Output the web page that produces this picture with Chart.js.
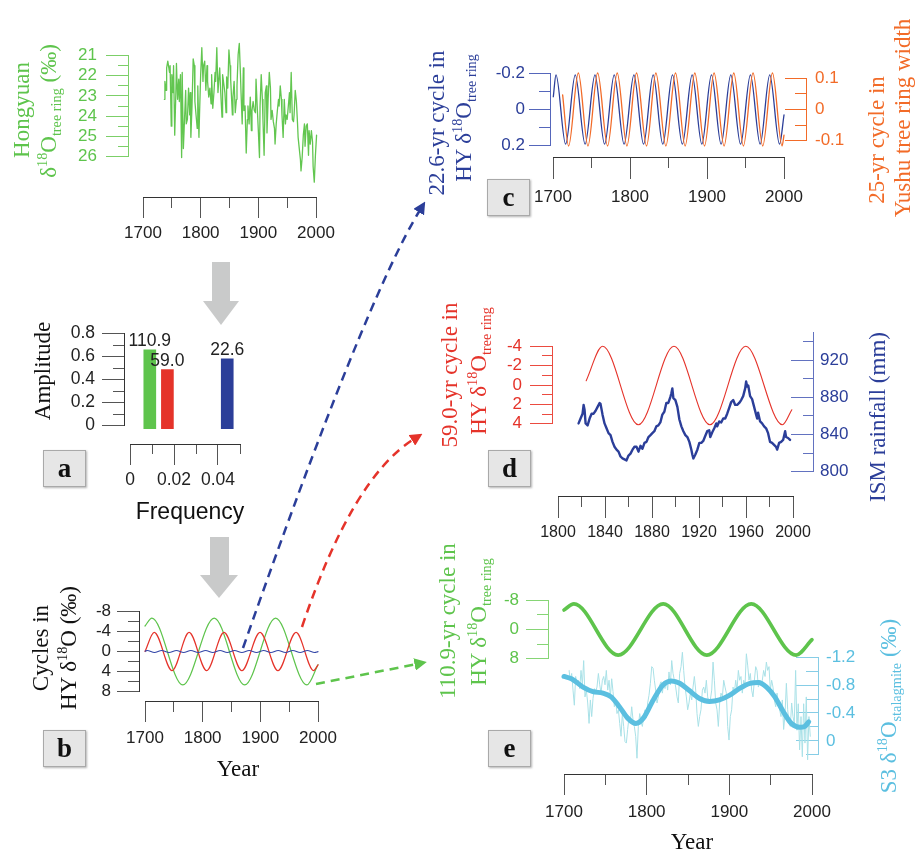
<!DOCTYPE html>
<html>
<head>
<meta charset="utf-8">
<title>Hongyuan tree-ring d18O cycles</title>
<script src="https://cdn.jsdelivr.net/npm/chart.js@4.4.1/dist/chart.umd.min.js"></script>
<style>
  body { margin: 0; background: #fff; }
  #fig { position: relative; width: 915px; height: 851px; overflow: hidden; background: #fff; }
  #fig canvas, #fig svg { position: absolute; }
  .t { position: absolute; white-space: nowrap; line-height: 1; font-family: "Liberation Serif", "Times New Roman", serif; }
  .t sup, .t sub { font-size: 62%; line-height: 0; position: relative; vertical-align: baseline; }
  .t sup { top: -0.62em; }
  .t sub { top: 0.32em; }
  .box { position: absolute; box-sizing: border-box; background: #e6e6e6; border: 1px solid #a9a9a9;
         box-shadow: 1px 1px 2px rgba(0,0,0,0.3); font: bold 27px "Liberation Serif", "Times New Roman", serif;
         text-align: center; color: #111; }
</style>
</head>
<body>
<div id="fig"></div>
<script>
// Hongyuan tree-ring d18O (per mil)
const hyYears = [
  1737,1738,1740,1741,1743,1746,1747,1749,1750,1752,
  1753,1755,1757,1758,1760,1762,1763,1765,1767,1768,
  1770,1772,1774,1775,1777,1779,1781,1782,1783,1785,
  1787,1789,1790,1792,1794,1795,1797,1798,1800,1802,
  1804,1805,1807,1809,1811,1812,1814,1816,1818,1819,
  1821,1823,1825,1826,1828,1830,1831,1833,1835,1837,
  1838,1840,1842,1844,1845,1847,1849,1851,1852,1855,
  1856,1858,1860,1862,1863,1865,1867,1869,1870,1872,
  1874,1875,1877,1879,1881,1882,1884,1886,1888,1889,
  1891,1893,1895,1896,1898,1900,1902,1903,1905,1907,
  1908,1910,1912,1914,1915,1917,1919,1921,1922,1924,
  1926,1928,1929,1931,1933,1935,1936,1938,1940,1941,
  1943,1945,1947,1948,1950,1952,1954,1955,1957,1959,
  1961,1962,1964,1966,1968,1969,1971,1973,1974,1976,
  1978,1980,1981,1983,1985,1987,1988,1990,1992,1994,
  1995,1997,1999,2001,2002
];
const hyValues = [
  23.2,22.4,22.8,21.8,21.5,22.0,21.7,24.4,22.1,22.9,
  21.7,24.8,22.9,21.6,23.2,22.3,23.3,22.1,25.8,22.0,
  25.4,24.1,22.8,24.3,24.1,22.7,23.9,22.9,24.9,23.5,
  21.4,21.7,23.3,23.9,24.5,22.6,24.9,23.9,22.1,20.9,
  22.4,21.7,21.5,22.8,21.7,22.4,23.1,22.7,23.4,22.1,
  23.6,22.9,22.0,22.4,20.9,22.9,22.5,21.8,23.0,24.0,
  22.1,22.5,22.9,23.8,22.2,22.7,21.0,21.7,22.3,23.9,
  23.1,22.4,23.8,23.2,22.6,21.2,20.7,22.1,22.9,24.3,
  21.8,23.7,23.5,25.6,24.1,23.5,24.3,23.1,24.6,23.7,
  23.3,23.7,23.8,22.3,23.5,24.6,25.8,23.5,22.1,23.2,
  24.1,25.7,22.9,22.6,24.7,23.2,22.0,22.7,24.1,23.7,
  24.2,24.5,25.2,24.3,23.7,23.2,23.5,22.6,23.2,23.9,
  24.9,23.2,24.3,23.9,24.1,23.5,22.9,23.8,22.0,24.1,
  24.2,23.9,22.8,23.3,24.3,24.9,25.4,25.9,26.4,25.8,
  24.8,24.3,25.3,24.4,24.3,25.7,24.6,25.2,24.6,25.1,
  26.2,26.9,25.7,24.8,25.8
];

// spectrum peaks (panel a)
const periods = ['110.9', '59.0', '22.6'];
const freqs = [0.009, 0.017, 0.0442];
const amps = [0.64, 0.48, 0.567];

// cycles extracted from HY d18O (panel b), turning points
const cyc111Years = [1700, 1712, 1765.5, 1820, 1872.8, 1926.5, 1980.7, 2000];
const cyc111Values = [-4.8, -6.3, 6.3, -6.3, 6.3, -6.3, 6.3, 2.5];
const cyc59Years = [1700, 1716, 1747, 1776.5, 1807, 1837, 1868, 1899.5, 1930.5, 1962, 1992.4, 2000];
const cyc59Values = [0, -3.6, 3.6, -3.6, 3.6, -3.6, 3.6, -3.6, 3.6, -3.6, 3.6, 2.5];
const cyc22Years = [1700.4, 1703.9, 1716.4, 1728.9, 1741.7, 1754.5, 1767.0, 1779.5, 1792.3, 1805.1, 1817.6, 1830.1, 1842.6,
  1855.2, 1868.0, 1880.7, 1893.3, 1905.8, 1918.3, 1930.9, 1943.6, 1956.4, 1969.0, 1981.5, 1994.2, 2000];
const cyc22Values = [-0.07, -0.19, 0.19, -0.19, 0.19, -0.19, 0.19, -0.19, 0.19, -0.19, 0.19, -0.19, 0.19,
  -0.19, 0.19, -0.19, 0.19, -0.19, 0.19, -0.19, 0.19, -0.19, 0.19, -0.19, 0.19, 0.03];

// 25-yr cycle in Yushu tree ring width (panel c)
const yushuYears = [1712.5, 1720.3, 1732.9, 1745.4, 1758.0, 1770.9, 1783.4, 1796.0, 1808.5, 1821.5, 1833.6, 1846.6,
  1859.1, 1871.6, 1884.2, 1896.8, 1909.2, 1922.2, 1934.8, 1947.3, 1959.8, 1972.4, 1985.0, 1997.5, 2000];
const yushuValues = [0.04, -0.1, 0.1, -0.1, 0.1, -0.1, 0.1, -0.1, 0.1, -0.1, 0.1, -0.1,
  0.1, -0.1, 0.1, -0.1, 0.1, -0.1, 0.1, -0.1, 0.1, -0.1, 0.1, -0.1, -0.07];

// panel d: 59-yr cycle and ISM rainfall (mm)
const d59Years = [1824, 1838, 1868.4, 1898.7, 1929.3, 1959.8, 1991, 1999];
const d59Values = [-0.4, -3.6, 3.7, -3.6, 3.7, -3.6, 3.7, 2.3];
const ismYears = [
  1817.5,1819.2,1820.9,1821.8,1822.6,1823.5,1825.2,1826.9,1828.6,1830.3,
  1832.0,1833.7,1835.4,1836.2,1837.9,1839.6,1841.3,1843.0,1844.7,1846.4,
  1848.1,1849.8,1851.5,1853.2,1854.9,1856.6,1858.3,1860.0,1861.7,1863.4,
  1865.1,1866.8,1868.5,1870.2,1871.9,1873.6,1875.3,1877.0,1878.7,1880.3,
  1882.0,1883.7,1885.4,1887.1,1888.8,1890.5,1892.2,1893.9,1895.6,1896.5,
  1897.3,1898.2,1899.9,1901.6,1903.3,1905.0,1906.7,1908.4,1910.1,1911.8,
  1913.5,1914.3,1915.2,1916.9,1918.6,1920.3,1922.0,1923.6,1925.3,1927.0,
  1928.7,1929.6,1931.3,1933.0,1934.7,1935.5,1937.2,1938.9,1940.6,1942.3,
  1944.0,1945.7,1947.4,1949.1,1950.8,1952.5,1954.2,1955.9,1957.6,1959.3,
  1960.1,1961.0,1961.9,1963.5,1965.2,1966.9,1968.6,1969.5,1970.3,1972.0,
  1973.7,1975.4,1977.1,1978.8,1980.5,1982.2,1983.9,1985.6,1986.5,1988.2,
  1989.9,1991.6,1993.3,1994.1,1995.8,1997.5
];
const ismValues = [
  853,858,863,872,867,853,851,858,863,863,
  866,870,874,873,862,853,848,843,841,834,
  829,826,824,819,817,816,815,820,822,826,
  829,829,824,830,827,833,834,839,841,843,
  845,850,851,854,862,865,874,874,880,884,
  889,879,877,870,857,850,845,841,839,834,
  826,821,817,821,826,833,833,835,840,845,
  846,839,844,848,853,850,855,854,858,858,
  863,869,875,877,872,872,874,877,881,889,
  896,891,892,881,878,870,862,858,864,855,
  853,850,848,843,834,833,831,829,826,833,
  834,836,845,839,838,836
];

// panel e: S3 stalagmite d18O (per mil), raw and smoothed
const s3Years = [
  1706.1,1707.7,1709.3,1710.9,1712.5,1714.1,1715.8,1717.4,1719.0,1720.6,
  1722.2,1723.8,1725.4,1727.0,1728.7,1730.3,1731.9,1733.5,1735.1,1736.7,
  1738.3,1739.9,1741.6,1743.2,1744.8,1746.4,1748.0,1749.6,1751.2,1752.9,
  1754.5,1756.1,1757.7,1759.3,1760.9,1762.5,1764.1,1765.8,1767.4,1769.0,
  1770.6,1772.2,1773.8,1775.4,1777.0,1778.7,1780.3,1781.9,1783.5,1785.1,
  1786.7,1788.3,1789.9,1791.6,1793.2,1794.8,1796.4,1798.0,1799.6,1801.2,
  1802.8,1804.5,1806.1,1807.7,1809.3,1810.9,1812.5,1814.1,1815.8,1817.4,
  1819.0,1820.6,1822.2,1823.8,1825.4,1827.0,1828.7,1830.3,1831.9,1833.5,
  1835.1,1836.7,1838.3,1839.9,1841.6,1843.2,1844.8,1846.4,1848.0,1849.6,
  1851.2,1852.8,1854.5,1856.1,1857.7,1859.3,1860.9,1862.5,1864.1,1865.7,
  1867.4,1869.0,1870.6,1872.2,1873.8,1875.4,1877.0,1878.7,1880.3,1881.9,
  1883.5,1885.1,1886.7,1888.3,1889.9,1891.6,1893.2,1894.8,1896.4,1898.0,
  1899.6,1901.2,1902.8,1904.5,1906.1,1907.7,1909.3,1910.9,1912.5,1914.1,
  1915.7,1917.4,1919.0,1920.6,1922.2,1923.8,1925.4,1927.0,1928.6,1930.3,
  1931.9,1933.5,1935.1,1936.7,1938.3,1939.9,1941.5,1943.2,1944.8,1946.4,
  1948.0,1949.6,1951.2,1952.8,1954.4,1956.1,1957.7,1959.3,1960.9,1962.5,
  1964.1,1965.7,1967.4,1969.0,1970.6,1972.2,1973.8,1975.4,1977.0,1978.6,
  1980.2,1981.8,1983.4,1985.0,1986.7,1988.3,1989.9,1991.5,1993.1,1994.7,1996.3,1997.9
];
const s3Values = [
  -0.97,-0.84,-0.93,-0.71,-0.51,-0.89,-0.78,-0.84,-0.73,-0.97,
  -0.78,-1.10,-0.62,-0.71,-0.54,-0.27,-0.58,-0.36,-0.60,-0.73,
  -0.69,-0.75,-0.93,-0.78,-0.67,-0.84,-0.89,-0.78,-0.97,-0.71,
  -0.84,-0.62,-0.86,-0.69,-0.49,-0.58,-0.40,-0.45,-0.27,-0.10,
  -0.40,-0.23,-0.03,-0.01,-0.19,-0.36,-0.29,-0.49,-0.32,-0.23,
  -0.10,0.19,-0.23,-0.40,-0.29,-0.23,-0.36,-0.45,-0.34,-0.54,
  -0.64,-0.80,-1.02,-1.00,-0.84,-0.71,-0.54,-0.62,-0.78,-0.82,
  -0.67,-0.80,-0.73,-0.84,-0.71,-0.95,-0.78,-1.10,-0.93,-0.84,
  -0.75,-0.62,-0.54,-0.93,-1.02,-1.21,-0.97,-0.75,-0.62,-0.45,
  -0.54,-0.67,-0.58,-0.75,-0.89,-0.71,-0.40,-0.23,-0.36,-0.45,
  -0.71,-0.75,-0.67,-0.84,-0.62,-0.54,-0.58,-0.71,-1.08,-0.84,
  -0.54,-0.45,-0.23,-0.54,-0.67,-0.62,-0.84,-0.75,-0.67,-0.23,
  -0.05,-0.36,-0.45,-0.75,-0.67,-0.84,-0.71,-0.97,-0.84,-0.89,
  -0.67,-0.84,-0.78,-1.19,-1.04,-0.84,-0.93,-0.71,-0.62,-0.84,
  -1.02,-0.97,-0.75,-0.84,-0.78,-0.84,-0.97,-0.89,-1.08,-0.97,
  -1.02,-0.71,-0.84,-0.75,-0.58,-0.49,-0.67,-0.54,-0.45,-0.36,
  -0.58,-0.19,-0.40,-0.80,-0.45,-0.27,-0.23,-0.54,-0.36,-0.27,
  -0.97,-0.18,-0.53,0.08,-0.36,0.17,-0.53,-0.01,-0.62,0.21,-0.36,-0.10
];
const s3SmoothYears = [1700,1709,1723,1735,1747,1757,1767,1777,1787,1796,1808,1820,1830,1840,1852,1864,1876,1888,1900,1912,1925,1935,1945,1955,1965,1975,1985,1991,1996];
const s3SmoothValues = [-0.89,-0.86,-0.75,-0.69,-0.67,-0.62,-0.49,-0.34,-0.27,-0.34,-0.58,-0.78,-0.83,-0.80,-0.70,-0.60,-0.56,-0.58,-0.64,-0.73,-0.80,-0.81,-0.75,-0.62,-0.43,-0.27,-0.22,-0.23,-0.29];

// major tick values for each axis
const hyTicks = [21, 22, 23, 24, 25, 26];
const yearTicks = [1700, 1800, 1900, 2000];
const ampTicks = [0, 0.2, 0.4, 0.6, 0.8];
const freqTicks = [0, 0.02, 0.04];
const cycleTicks = [-8, -4, 0, 4, 8];
const c22Ticks = [-0.2, 0, 0.2];
const yushuTicks = [-0.1, 0, 0.1];
const d59Ticks = [-4, -2, 0, 2, 4];
const ismTicks = [800, 840, 880, 920];
const ismYearTicks = [1800, 1840, 1880, 1920, 1960, 2000];
const e111Ticks = [-8, 0, 8];
const s3Ticks = [-1.2, -0.8, -0.4, 0];

const GREEN = '#5ec44c', RED = '#e5332a', BLUE = '#2b3e99', ORANGE = '#f26b28', LBLUE = '#5bbfe0', GRAY = '#c9caca';
const SANS = '"Liberation Sans", Arial, Helvetica, sans-serif';
const SERIF = '"Liberation Serif", "Times New Roman", serif';

Chart.defaults.font.family = SANS;
Chart.defaults.color = '#222';
Chart.defaults.animation = false;
Chart.defaults.responsive = false;
Chart.defaults.maintainAspectRatio = false;
Chart.defaults.devicePixelRatio = 1;
Chart.defaults.events = [];
Chart.defaults.plugins.legend.display = false;
Chart.defaults.plugins.tooltip.enabled = false;

const fig = document.getElementById('fig');
const fmt = v => String(Math.round(v * 1000) / 1000);

function addCanvas(left, top, w, h) {
  const c = document.createElement('canvas');
  c.width = w; c.height = h;
  c.style.cssText = `left:${left}px;top:${top}px;width:${w}px;height:${h}px`;
  fig.appendChild(c);
  return c;
}

function steps(min, max, step) {
  const out = [];
  for (let v = min; v <= max + step / 1000; v += step) out.push(Math.round(v * 1e6) / 1e6);
  return out;
}

// detached axis: a chart that only draws one scale, drawn twice (minor ticks, then major ticks + labels)
function axis(o) {
  [{vals: steps(o.min, o.max, o.minor), len: o.minorLen, labels: false},
   {vals: o.ticks, len: o.majorLen, labels: true}].forEach(lv => {
    const ticks = {
      autoSkip: false, maxRotation: 0, padding: o.pad, color: o.labelColor || '#222',
      font: {size: o.size || 17},
      callback: lv.labels ? fmt : () => ''
    };
    const scale = {
      type: 'linear', min: o.min, max: o.max, reverse: !!o.reverse, ticks,
      grid: {drawOnChartArea: false, tickLength: lv.len, tickColor: o.tickColor || o.color, tickWidth: 1},
      border: {color: o.color, width: 1},
      afterBuildTicks: s => { s.ticks = lv.vals.map(v => ({value: v})); }
    };
    let cv, padding, scales;
    if (o.side === 'bottom') {
      const P = 30, H = 60;
      cv = addCanvas(o.from - P, o.at - 2, o.to - o.from + 2 * P, H + 2);
      padding = {left: P, right: P, top: 0, bottom: 0};
      scale.position = 'bottom';
      scale.afterFit = s => { s.height = H; };
      scales = {x: scale, y: {type: 'linear', display: false}};
    } else {
      const P = 14, LW = 80, TW = 40;
      const h = o.to - o.from + 2 * P;
      scale.position = 'left';
      if (o.side === 'left') {
        cv = addCanvas(o.at - LW, o.from - P, LW + 2, h);
        scale.afterFit = s => { s.width = LW; };
      } else {
        // right-hand axis: ticks point inwards, labels sit outside
        cv = addCanvas(o.at - TW, o.from - P, TW + 70, h);
        scale.afterFit = s => { s.width = TW; };
        ticks.mirror = true;
      }
      padding = {top: P, bottom: P, left: 0, right: 0};
      scales = {y: scale, x: {type: 'linear', display: false}};
    }
    new Chart(cv, {type: 'line', data: {datasets: []}, options: {layout: {padding}, scales}});
  });
}

function line(xs, ys, color, width, smooth = true) {
  return {
    data: xs.map((x, i) => ({x, y: ys[i]})),
    borderColor: color, borderWidth: width, pointRadius: 0, fill: false, clip: false,
    cubicInterpolationMode: smooth ? 'monotone' : 'default', tension: 0,
    borderCapStyle: 'round', borderJoinStyle: 'round'
  };
}

function plot(o) {
  const M = 25, [x0, y0, x1, y1] = o.box;
  const cv = addCanvas(x0 - M, y0 - M, x1 - x0 + 2 * M, y1 - y0 + 2 * M);
  new Chart(cv, {
    type: o.type || 'line',
    data: {datasets: o.datasets},
    options: {
      layout: {padding: M},
      scales: {
        x: {type: 'linear', display: false, offset: false, min: o.x[0], max: o.x[1]},
        y: {type: 'linear', display: false, min: o.y[0], max: o.y[1], reverse: !!o.reverse}
      }
    },
    plugins: o.plugins || []
  });
}

const barLabels = {
  id: 'barLabels',
  afterDatasetsDraw(chart) {
    const ctx = chart.ctx;
    ctx.save();
    ctx.font = '17.5px ' + SANS;
    ctx.fillStyle = '#222';
    ctx.textAlign = 'center';
    ctx.textBaseline = 'alphabetic';
    chart.getDatasetMeta(0).data.forEach((bar, i) => ctx.fillText(periods[i], bar.x, bar.y - 3.5));
    ctx.restore();
  }
};

const AX = {color: '#333', tickColor: '#555', labelColor: '#222'};

// Hongyuan series
axis({side: 'left', at: 128, from: 50, to: 162, min: 21, max: 26, reverse: true, ticks: hyTicks, minor: 0.5,
  majorLen: 22, minorLen: 10, pad: 9, color: '#7ccf68', labelColor: GREEN});
axis({side: 'bottom', at: 197, from: 143, to: 316, min: 1700, max: 2000, ticks: yearTicks, minor: 50,
  majorLen: 21, minorLen: 11, pad: 5, ...AX});
plot({box: [143, 50, 316, 162], x: [1700, 2000], y: [21, 26], reverse: true,
  datasets: [line(hyYears, hyValues, '#62c650', 1.3, false)]});

// a: amplitude spectrum
axis({side: 'left', at: 124, from: 330, to: 429, min: 0, max: 0.8, ticks: ampTicks, minor: 0.1,
  majorLen: 22, minorLen: 11, pad: 7, size: 17.5, ...AX});
axis({side: 'bottom', at: 444, from: 130, to: 240, min: 0, max: 0.05, ticks: freqTicks, minor: 0.01,
  majorLen: 21, minorLen: 10, pad: 5, size: 17.5, ...AX});
plot({box: [130, 330, 240, 429], x: [0, 0.05], y: [0, 0.8], type: 'bar', plugins: [barLabels],
  datasets: [{data: freqs.map((f, i) => ({x: f, y: amps[i]})), backgroundColor: [GREEN, RED, BLUE], barThickness: 12}]});

// b: the three cycles
axis({side: 'left', at: 139, from: 609, to: 694, min: -8, max: 8, reverse: true, ticks: cycleTicks, minor: 2,
  majorLen: 22, minorLen: 11, pad: 6, ...AX});
axis({side: 'bottom', at: 701, from: 145, to: 318, min: 1700, max: 2000, ticks: yearTicks, minor: 50,
  majorLen: 21, minorLen: 11, pad: 6, ...AX});
plot({box: [145, 609, 318, 694], x: [1700, 2000], y: [-8, 8], reverse: true, datasets: [
  line(cyc22Years, cyc22Values, '#3447a8', 1.2),
  line(cyc59Years, cyc59Values, RED, 1.2),
  line(cyc111Years, cyc111Values, GREEN, 1.2)
]});

// c: 22.6-yr cycle vs Yushu
axis({side: 'left', at: 550, from: 73, to: 146, min: -0.2, max: 0.2, reverse: true, ticks: c22Ticks, minor: 0.1,
  majorLen: 21, minorLen: 11, pad: 4, color: '#5566bb', labelColor: BLUE});
axis({side: 'right', at: 806, from: 73, to: 146, min: -0.1, max: 0.1, ticks: yushuTicks, minor: 0.05,
  majorLen: 21, minorLen: 11, pad: 9, color: ORANGE, labelColor: ORANGE});
axis({side: 'bottom', at: 157, from: 553, to: 784, min: 1700, max: 2000, ticks: yearTicks, minor: 50,
  majorLen: 22, minorLen: 11, pad: 8, ...AX});
plot({box: [553, 73, 784, 146], x: [1700, 2000], y: [-0.2, 0.2], reverse: true,
  datasets: [line(cyc22Years, cyc22Values, BLUE, 1.3)]});
plot({box: [553, 73, 784, 146], x: [1700, 2000], y: [-0.1, 0.1],
  datasets: [line(yushuYears, yushuValues, ORANGE, 1.3)]});

// d: 59-yr cycle vs ISM rainfall
axis({side: 'left', at: 552, from: 342, to: 428, min: -4, max: 4, reverse: true, ticks: d59Ticks, minor: 1,
  majorLen: 22, minorLen: 10, pad: 8, color: '#eb4b40', labelColor: RED});
axis({side: 'right', at: 813, from: 329, to: 475, min: 800, max: 950, ticks: ismTicks, minor: 20,
  majorLen: 22, minorLen: 10, pad: 7, color: '#6272c0', labelColor: BLUE});
axis({side: 'bottom', at: 496, from: 558, to: 793, min: 1800, max: 2000, ticks: ismYearTicks, minor: 20,
  majorLen: 22, minorLen: 11, pad: 5, size: 16, ...AX});
plot({box: [558, 342, 793, 428], x: [1800, 2000], y: [-4, 4], reverse: true,
  datasets: [line(d59Years, d59Values, RED, 1.1)]});
plot({box: [558, 329, 793, 475], x: [1800, 2000], y: [800, 950],
  datasets: [line(ismYears, ismValues, BLUE, 2.4, false)]});

// e: 110.9-yr cycle vs S3 stalagmite
axis({side: 'left', at: 548, from: 597, to: 662, min: -8, max: 8, reverse: true, ticks: e111Ticks, minor: 4,
  majorLen: 22, minorLen: 11, pad: 7, color: '#86d575', labelColor: GREEN});
axis({side: 'right', at: 818, from: 653, to: 759, min: -1.2, max: 0.2, reverse: true, ticks: s3Ticks, minor: 0.2,
  majorLen: 22, minorLen: 12, pad: 8, color: '#86cde6', labelColor: LBLUE});
axis({side: 'bottom', at: 774, from: 564, to: 812, min: 1700, max: 2000, ticks: yearTicks, minor: 50,
  majorLen: 21, minorLen: 11, pad: 7, ...AX});
plot({box: [564, 597, 812, 662], x: [1700, 2000], y: [-8, 8], reverse: true,
  datasets: [line(cyc111Years, cyc111Values, GREEN, 3.6)]});
plot({box: [564, 653, 812, 759], x: [1700, 2000], y: [-1.2, 0.2], reverse: true, datasets: [
  line(s3SmoothYears, s3SmoothValues, LBLUE, 5),
  line(s3Years, s3Values, '#a9e1e7', 1, false)
]});

// block arrows and dashed link arrows
const dash = (d, c, id) =>
  `<path d="${d}" fill="none" stroke="${c}" stroke-width="2.5" stroke-dasharray="9 6" marker-end="url(#${id})"/>`;
const head = (id, c) =>
  `<marker id="${id}" viewBox="0 0 10 10" refX="2" refY="5" markerWidth="5" markerHeight="5" orient="auto"><path d="M0,0L10,5L0,10z" fill="${c}"/></marker>`;
fig.insertAdjacentHTML('beforeend', `
<svg width="915" height="851" viewBox="0 0 915 851" style="left:0;top:0">
  <defs>${head('hb', BLUE)}${head('hr', RED)}${head('hg', GREEN)}</defs>
  <rect x="212" y="262" width="18" height="40" fill="${GRAY}"/>
  <polygon points="203,301 239,301 221,325" fill="${GRAY}"/>
  <rect x="210" y="537" width="19" height="39" fill="${GRAY}"/>
  <polygon points="200,575 238,575 219,598" fill="${GRAY}"/>
  ${dash('M243,648 Q365,300 420,210', BLUE, 'hb')}
  ${dash('M302,627 Q352,478 414,439', RED, 'hr')}
  ${dash('M316,684 L417,664', GREEN, 'hg')}
</svg>`);

function text(html, x, y, color, opts = {}) {
  const d = document.createElement('div');
  d.className = 't';
  d.innerHTML = html;
  d.style.left = x + 'px';
  d.style.top = y + 'px';
  d.style.color = color;
  d.style.fontSize = (opts.size || 23) + 'px';
  if (opts.sans) d.style.fontFamily = SANS;
  d.style.transform = 'translate(-50%,-50%)' + (opts.flat ? '' : ' rotate(-90deg)');
  fig.appendChild(d);
}

const HY = 'HY &delta;<sup>18</sup>O<sub>tree ring</sub>';
text('Hongyuan', 21, 110, GREEN);
text('&delta;<sup>18</sup>O<sub>tree ring</sub> (&permil;)', 48, 111, GREEN);
text('Amplitude', 42, 371, '#111');
text('Frequency', 190, 511, '#111', {flat: true, sans: true});
text('Cycles in', 40, 648, '#111');
text('HY &delta;<sup>18</sup>O (&permil;)', 68, 648, '#111');
text('Year', 238, 768, '#111', {flat: true});
text('22.6-yr cycle in', 436, 123, BLUE);
text(HY, 463, 118, BLUE);
text('25-yr cycle in', 876, 140, ORANGE);
text('Yushu tree ring width', 902, 118, ORANGE);
text('59.0-yr cycle in', 449, 375, RED);
text(HY, 478, 371, RED);
text('ISM rainfall (mm)', 877, 417, BLUE);
text('110.9-yr cycle in', 447, 621, GREEN);
text(HY, 478, 622, GREEN);
text('S3 &delta;<sup>18</sup>O<sub>stalagmite</sub> (&permil;)', 888, 706, LBLUE);
text('Year', 692, 841, '#111', {flat: true});

[['a', 43, 450], ['b', 43, 730], ['c', 487, 179], ['d', 488, 450], ['e', 488, 730]].forEach(([t, x, y]) => {
  const b = document.createElement('div');
  b.className = 'box';
  b.textContent = t;
  b.style.cssText = `left:${x}px;top:${y}px;width:43px;height:37px;line-height:35px`;
  fig.appendChild(b);
});
</script>
</body>
</html>
